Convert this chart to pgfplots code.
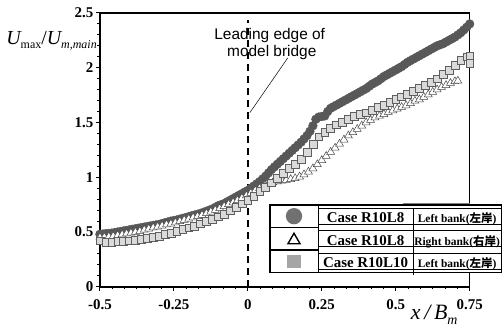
\documentclass[border=0pt]{standalone}
\usepackage{fontspec}
\setmainfont{Liberation Serif}
\newfontfamily\annfont{Liberation Sans}
\newfontfamily\cjk{Noto Sans CJK JP}
\usepackage{pgfplots}
\pgfplotsset{compat=1.18}
\definecolor{circ}{RGB}{88,88,88}
\definecolor{sqfill}{RGB}{218,218,218}
\definecolor{sqedge}{RGB}{95,95,95}
\definecolor{sqleg}{RGB}{165,165,165}
\definecolor{triedge}{RGB}{70,70,70}
\begin{document}
\begin{tikzpicture}
\begin{axis}[name=ax,
  width=370bp, height=274bp, scale only axis,
  xmin=-0.5, xmax=0.75, ymin=0, ymax=2.5,
  xtick={-0.5,-0.25,0,0.25,0.5,0.75},
  ytick={0,0.5,1,1.5,2,2.5},
  minor x tick num=5, minor y tick num=4,
  tick align=outside, xtick pos=bottom, ytick pos=left,
  major tick length=4bp, minor tick length=2.5bp,
  axis line style={line width=1.5bp},
  every tick/.style={black, line width=1bp},
  /pgf/number format/assume math mode=true,
  ticklabel style={font=\fontsize{15}{15}\selectfont\bfseries},
  yticklabel style={xshift=1bp},
  xticklabel style={yshift=-5bp},
  clip=false,
  legend style={at={(axis cs:0.074,0.748)}, anchor=north west,
    draw=black, line width=1.3bp, fill=white,
    inner sep=0pt, outer sep=0pt, row sep=0pt, column sep=0pt,
    nodes={inner sep=0pt, outer sep=0pt, draw=black, line width=0.6bp}},
  legend cell align=left,
]
% leading edge line
\addplot[forget plot, black, line width=1.6bp, dash pattern=on 7bp off 5bp] coordinates {(0,0) (0,2.44)};
\addplot[forget plot, black, line width=0.5bp] coordinates {(0.135,2.09) (0.007,1.59)};
\draw[line width=0.6bp, gray] (axis cs:0.524,0.762) -- (axis cs:0.75,0.762);

% Case R10L8 left bank (circles)
\addplot[only marks, mark=*, mark size=4.4bp, mark options={draw=circ, fill=circ},
  legend image code/.code={
    \draw[black, line width=0.6bp] (0bp,-11bp) rectangle (48bp,11bp);
    \draw[mark=*, mark size=7.5bp, mark options={draw=circ!85!white, fill=circ!85!white}] plot coordinates {(24bp,0bp)};
  }] coordinates {
(-0.50,0.480) (-0.49,0.482) (-0.48,0.485) (-0.47,0.487) (-0.46,0.490) (-0.45,0.495)
(-0.44,0.500) (-0.43,0.505) (-0.42,0.510) (-0.41,0.515) (-0.40,0.520) (-0.39,0.525)
(-0.38,0.530) (-0.37,0.535) (-0.36,0.540) (-0.35,0.545) (-0.34,0.550) (-0.33,0.555)
(-0.32,0.560) (-0.31,0.565) (-0.30,0.570) (-0.29,0.578) (-0.28,0.585) (-0.27,0.592)
(-0.26,0.600) (-0.25,0.605) (-0.24,0.610) (-0.23,0.618) (-0.22,0.625) (-0.21,0.632)
(-0.20,0.640) (-0.19,0.648) (-0.18,0.655) (-0.17,0.662) (-0.16,0.670) (-0.15,0.680)
(-0.14,0.690) (-0.13,0.700) (-0.12,0.710) (-0.11,0.725) (-0.10,0.740) (-0.09,0.750)
(-0.08,0.760) (-0.07,0.775) (-0.06,0.790) (-0.05,0.805) (-0.04,0.820) (-0.03,0.835)
(-0.02,0.850) (-0.01,0.865) (0.00,0.880) (0.01,0.900) (0.02,0.920) (0.03,0.940)
(0.04,0.960) (0.05,0.985) (0.06,1.010) (0.07,1.040) (0.08,1.070) (0.09,1.095)
(0.10,1.120) (0.11,1.145) (0.12,1.170) (0.13,1.195) (0.14,1.220) (0.15,1.245)
(0.16,1.270) (0.17,1.295) (0.18,1.320) (0.19,1.350) (0.20,1.380) (0.21,1.420)
(0.22,1.470) (0.23,1.530) (0.24,1.550) (0.25,1.555) (0.26,1.560) (0.27,1.600)
(0.28,1.630) (0.29,1.645) (0.30,1.660) (0.31,1.675) (0.32,1.690) (0.33,1.705)
(0.34,1.720) (0.35,1.735) (0.36,1.750) (0.37,1.765) (0.38,1.780) (0.39,1.795)
(0.40,1.810) (0.41,1.830) (0.42,1.850) (0.43,1.865) (0.44,1.880) (0.45,1.900)
(0.46,1.920) (0.47,1.935) (0.48,1.950) (0.49,1.965) (0.50,1.980) (0.51,1.995)
(0.52,2.010) (0.53,2.030) (0.54,2.050) (0.55,2.065) (0.56,2.080) (0.57,2.095)
(0.58,2.110) (0.59,2.125) (0.60,2.140) (0.61,2.155) (0.62,2.170) (0.63,2.185)
(0.64,2.200) (0.65,2.210) (0.66,2.220) (0.67,2.235) (0.68,2.250) (0.69,2.265)
(0.70,2.280) (0.71,2.300) (0.72,2.320) (0.73,2.345) (0.74,2.370) (0.75,2.400)
};
\addlegendentry{\makebox[94bp]{\fontsize{15}{15}\selectfont\bfseries Case R10L8}\vrule width 0.6bp height 14.5bp depth 7.5bp\makebox[88bp]{\fontsize{11.5}{11.5}\selectfont\bfseries Left bank({\cjk 左岸})}}

% Case R10L8 right bank (triangles)
\addplot[only marks, mark=triangle*, mark size=4.6bp, mark options={draw=triedge, fill=white, line width=0.5bp},
  legend image code/.code={
    \draw[black, line width=0.6bp] (0bp,-11bp) rectangle (48bp,11bp);
    \draw[mark=triangle*, mark size=7bp, mark options={draw=black, fill=white, line width=1.4bp}] plot coordinates {(24bp,-1.5bp)};
  }] coordinates {
(-0.500,0.450) (-0.485,0.453) (-0.470,0.457) (-0.455,0.462) (-0.440,0.470) (-0.425,0.477)
(-0.410,0.485) (-0.395,0.492) (-0.380,0.500) (-0.365,0.507) (-0.350,0.520) (-0.335,0.530)
(-0.320,0.540) (-0.305,0.548) (-0.290,0.557) (-0.275,0.568) (-0.260,0.575) (-0.245,0.587)
(-0.230,0.598) (-0.215,0.610) (-0.200,0.620) (-0.185,0.632) (-0.170,0.643) (-0.155,0.655)
(-0.140,0.670) (-0.125,0.685) (-0.110,0.700) (-0.095,0.716) (-0.080,0.735) (-0.065,0.754)
(-0.050,0.770) (-0.035,0.790) (-0.020,0.810) (-0.005,0.832) (0.010,0.855) (0.025,0.878)
(0.040,0.900) (0.055,0.922) (0.070,0.940) (0.085,0.952) (0.100,0.960) (0.115,0.968)
(0.130,0.975) (0.145,0.982) (0.160,0.990) (0.175,1.005) (0.190,1.025) (0.205,1.050)
(0.220,1.080) (0.235,1.118) (0.250,1.155) (0.265,1.193) (0.280,1.230) (0.295,1.268)
(0.310,1.305) (0.325,1.343) (0.340,1.380) (0.355,1.410) (0.370,1.440) (0.385,1.470)
(0.400,1.500) (0.415,1.522) (0.430,1.545) (0.445,1.560) (0.460,1.575) (0.475,1.595)
(0.490,1.610) (0.505,1.625) (0.520,1.640) (0.535,1.655) (0.550,1.675) (0.565,1.697)
(0.580,1.710) (0.595,1.733) (0.610,1.755) (0.625,1.778) (0.640,1.800) (0.655,1.823)
(0.670,1.840) (0.685,1.860) (0.700,1.875) (0.710,1.880)
};
\addlegendentry{\makebox[94bp]{\fontsize{15}{15}\selectfont\bfseries Case R10L8}\vrule width 0.6bp height 14.5bp depth 7.5bp\makebox[88bp]{\fontsize{11.5}{11.5}\selectfont\bfseries Right bank({\cjk 右岸})}}

% Case R10L10 left bank (squares)
\addplot[only marks, mark=square*, mark size=3.9bp, mark options={draw=sqedge, fill=sqfill, line width=0.5bp},
  legend image code/.code={
    \draw[black, line width=0.6bp] (0bp,-11bp) rectangle (48bp,11bp);
    \draw[mark=square*, mark size=6bp, mark options={draw=sqleg, fill=sqleg}] plot coordinates {(24bp,0bp)};
  }] coordinates {
(-0.50,0.420) (-0.48,0.410) (-0.46,0.410) (-0.44,0.413) (-0.42,0.417) (-0.40,0.420)
(-0.38,0.428) (-0.36,0.436) (-0.34,0.444) (-0.32,0.453) (-0.30,0.465) (-0.28,0.477)
(-0.26,0.492) (-0.24,0.508) (-0.22,0.524) (-0.20,0.540) (-0.18,0.556) (-0.16,0.575)
(-0.14,0.595) (-0.12,0.616) (-0.10,0.640) (-0.08,0.664) (-0.06,0.694) (-0.04,0.726)
(-0.02,0.758) (0.00,0.790) (0.02,0.830) (0.04,0.870) (0.06,0.910) (0.08,0.950)
(0.10,0.990) (0.12,1.040) (0.14,1.080) (0.16,1.120) (0.18,1.165) (0.20,1.230)
(0.22,1.300) (0.24,1.370) (0.26,1.410) (0.28,1.450) (0.30,1.480) (0.32,1.505)
(0.34,1.530) (0.36,1.555) (0.38,1.575) (0.40,1.590) (0.42,1.615) (0.44,1.640)
(0.46,1.660) (0.48,1.685) (0.50,1.710) (0.52,1.735) (0.54,1.760) (0.56,1.785)
(0.58,1.810) (0.60,1.840) (0.62,1.870) (0.64,1.900) (0.66,1.940) (0.68,1.980)
(0.70,2.020) (0.72,2.070) (0.74,2.100) (0.75,2.110) (0.75,2.040)
};
\addlegendentry{\makebox[94bp]{\fontsize{15}{15}\selectfont\bfseries Case R10L10}\vrule width 0.6bp height 14.5bp depth 7.5bp\makebox[88bp]{\fontsize{11.5}{11.5}\selectfont\bfseries Left bank({\cjk 左岸})}}

\node[anchor=base, font=\annfont\fontsize{15.5}{15.5}\selectfont, inner sep=0pt] at (axis cs:0.074,2.254) {Leading edge of};
\node[anchor=base, font=\annfont\fontsize{15.5}{15.5}\selectfont, inner sep=0pt] at (axis cs:0.081,2.099) {model bridge};
\end{axis}
\node[anchor=base east, inner sep=0pt, font=\fontsize{20}{20}\selectfont] at ([xshift=-3bp,yshift=-32bp]ax.north west)
  {\itshape U\upshape\raisebox{-4bp}{\fontsize{12}{12}\selectfont max}/\itshape U\raisebox{-4bp}{\fontsize{12}{12}\selectfont\itshape m,main}};
\node[anchor=base west, inner sep=0pt, font=\fontsize{22}{22}\selectfont\itshape] at ([xshift=311bp,yshift=-33bp]ax.south west)
  {x\,/\,B\raisebox{-5bp}{\fontsize{14}{14}\selectfont m}};
\path[use as bounding box] ([xshift=-100bp,yshift=-41bp]ax.south west) rectangle ([xshift=32bp,yshift=13bp]ax.north east);
\end{tikzpicture}
\end{document}
